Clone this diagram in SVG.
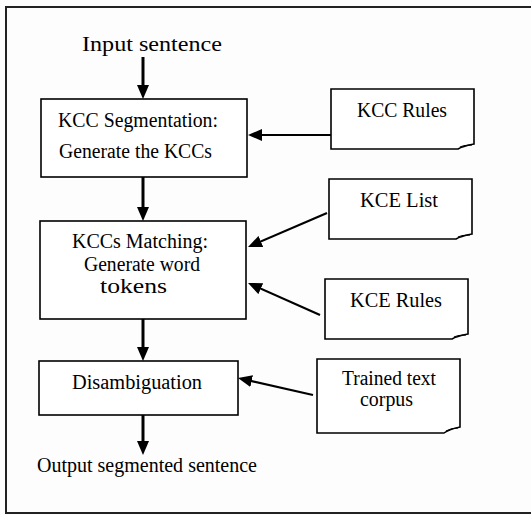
<svg xmlns="http://www.w3.org/2000/svg" width="531" height="515" viewBox="0 0 531 515">
<style>
.bg{fill:#fdfdfd}
.frame{fill:none;stroke:#222;stroke-width:2}
.box{fill:#fff;stroke:#000;stroke-width:1.6}
.doc{fill:#fff;stroke:#000;stroke-width:1.6;stroke-linejoin:miter}
.fold{fill:none;stroke:#000;stroke-width:1.2}
.thick{stroke:#000;stroke-width:3;fill:none}
.thin{stroke:#000;stroke-width:2.2;fill:none}
</style>
<defs>
<marker id="ah" viewBox="0 0 14 12" refX="9" refY="6" markerWidth="14" markerHeight="12" markerUnits="userSpaceOnUse" orient="auto">
<path d="M0,0 L14,6 L0,12 z" fill="#000"/>
</marker>
</defs>
<rect class="bg" x="0" y="0" width="531" height="515"/>
<path class="frame" d="M531,7 H6 V513 H531"/>

<g font-family="'Liberation Serif', 'Times New Roman', 'DejaVu Serif', serif" font-size="20" fill="#000">
<g id="input">
<text x="82" y="51" textLength="140" lengthAdjust="spacingAndGlyphs">Input sentence</text>
</g>

<g id="kcc-seg">
<rect class="box" x="41" y="99" width="206" height="78"/>
<text x="58" y="127" textLength="160" lengthAdjust="spacingAndGlyphs">KCC Segmentation:</text>
<text x="59" y="158" textLength="153" lengthAdjust="spacingAndGlyphs">Generate the KCCs</text>
</g>

<g id="kccs-match">
<rect class="box" x="40" y="221" width="206" height="98"/>
<text x="72" y="248" textLength="136" lengthAdjust="spacingAndGlyphs">KCCs Matching:</text>
<text x="84" y="271" textLength="116" lengthAdjust="spacingAndGlyphs">Generate word</text>
<text x="100" y="293" textLength="67" lengthAdjust="spacingAndGlyphs">tokens</text>
</g>

<g id="disamb">
<rect class="box" x="39" y="361" width="199" height="54"/>
<text x="72" y="389" textLength="130" lengthAdjust="spacingAndGlyphs">Disambiguation</text>
</g>

<g id="output">
<text x="37" y="472" textLength="220" lengthAdjust="spacingAndGlyphs">Output segmented sentence</text>
</g>

<g id="kcc-rules">
<path class="doc" d="M331,89 H474 V144 C469,145 463,146 458,149 H331 Z"/>
<path class="fold" d="M460,147 C464,145 468,145 472,145"/>
<text x="357" y="117" textLength="90" lengthAdjust="spacingAndGlyphs">KCC Rules</text>
</g>

<g id="kce-list">
<path class="doc" d="M329,179 H472 V234 C467,235 461,236 456,239 H329 Z"/>
<path class="fold" d="M458,237 C462,235 466,235 470,235"/>
<text x="360" y="207" textLength="78" lengthAdjust="spacingAndGlyphs">KCE List</text>
</g>

<g id="kce-rules">
<path class="doc" d="M325,279 H468 V334 C463,335 457,336 452,339 H325 Z"/>
<path class="fold" d="M454,337 C458,335 462,335 466,335"/>
<text x="350" y="307" textLength="92" lengthAdjust="spacingAndGlyphs">KCE Rules</text>
</g>

<g id="corpus">
<path class="doc" d="M317,359 H460 V427 C455,428 449,429 444,433 H317 Z"/>
<path class="fold" d="M446,431 C450,429 454,428 458,428"/>
<text x="342" y="385" textLength="94" lengthAdjust="spacingAndGlyphs">Trained text</text>
<text x="360" y="406" textLength="53" lengthAdjust="spacingAndGlyphs">corpus</text>
</g>
</g>

<g id="connectors">
<line class="thick" x1="143" y1="57" x2="143" y2="94" marker-end="url(#ah)"/>
<line class="thick" x1="143" y1="177" x2="143" y2="216" marker-end="url(#ah)"/>
<line class="thick" x1="143" y1="319" x2="143" y2="356" marker-end="url(#ah)"/>
<line class="thick" x1="143" y1="415" x2="143" y2="450" marker-end="url(#ah)"/>
<line class="thin" x1="331" y1="135" x2="253" y2="135" marker-end="url(#ah)"/>
<line class="thin" x1="327" y1="213" x2="252.6" y2="245" marker-end="url(#ah)"/>
<line class="thin" x1="320" y1="315" x2="252.6" y2="285" marker-end="url(#ah)"/>
<line class="thin" x1="313" y1="395" x2="242.9" y2="379.1" marker-end="url(#ah)"/>
</g>
</svg>
